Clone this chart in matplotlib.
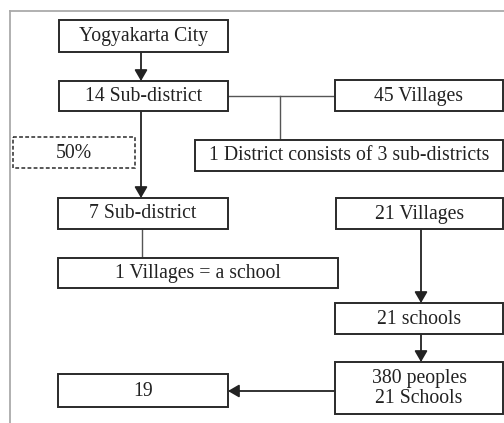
import matplotlib
matplotlib.use("Agg")
import matplotlib.pyplot as plt
from matplotlib.patches import Rectangle

# ---- content ----
labels = {
    "city": "Yogyakarta City",
    "sub14": "14 Sub-district",
    "vil45": "45 Villages",
    "district": "1 District consists of 3 sub-districts",
    "pct": "50%",
    "sub7": "7 Sub-district",
    "vil21": "21 Villages",
    "rule": "1 Villages = a school",
    "sch21": "21 schools",
    "people": "380 peoples\n21 Schools",
    "result": "19",
}

# ---- layout (pixel coords, y downward): x0, y0, x1, y1 ----
layout = {
    "city": (59, 20, 228, 52),
    "sub14": (59, 81, 228, 111),
    "vil45": (335, 80, 503, 111),
    "district": (195, 140, 503, 171),
    "pct": (13, 137, 135, 168),
    "sub7": (58, 198, 228, 229),
    "vil21": (336, 198, 503, 229),
    "rule": (58, 258, 338, 288),
    "sch21": (335, 303, 503, 334),
    "people": (335, 362, 503, 414),
    "result": (58, 374, 228, 407),
}

W, H = 504, 423
fig = plt.figure(figsize=(W / 100, H / 100), dpi=100)
ax = fig.add_axes([0, 0, 1, 1])
ax.set_xlim(0, W)
ax.set_ylim(H, 0)
ax.axis("off")

font = dict(family="Liberation Serif", fontsize=14.2, color="#222222")
box_col = "#2a2a2a"

# outer frame (left and top edges)
ax.plot([10, 10], [H, 11], color="#aaaaaa", lw=1.3)
ax.plot([10, W], [11, 11], color="#aaaaaa", lw=1.3)

for key, text in labels.items():
    x0, y0, x1, y1 = layout[key]
    dashed = key == "pct"
    ax.add_patch(Rectangle((x0, y0), x1 - x0, y1 - y0, fill=True, facecolor="white",
                           edgecolor=box_col, lw=1.1 if dashed else 1.4,
                           linestyle=(0, (2.5, 1.5)) if dashed else "-", zorder=3))
    ax.text((x0 + x1) / 2, (y0 + y1) / 2 + 0.5, text, ha="center", va="center",
            linespacing=1.05, zorder=4, **font)


def arrow(x0, y0, x1, y1):
    ax.annotate("", xy=(x1, y1), xytext=(x0, y0),
                arrowprops=dict(arrowstyle="-|>,head_length=0.55,head_width=0.32",
                                color="#222222", lw=1.3, shrinkA=0, shrinkB=0,
                                mutation_scale=12), zorder=2)


def line(xs, ys):
    ax.plot(xs, ys, color="#555555", lw=1.0, zorder=2)


arrow(141, 52, 141, 81)
arrow(141, 111, 141, 198)
line([228, 335], [96, 96])
line([280, 280], [96, 140])
line([142, 142], [229, 258])
arrow(421, 229, 421, 303)
arrow(421, 334, 421, 362)
arrow(335, 391, 228, 391)

fig.savefig("out.png", dpi=100, facecolor="white")
